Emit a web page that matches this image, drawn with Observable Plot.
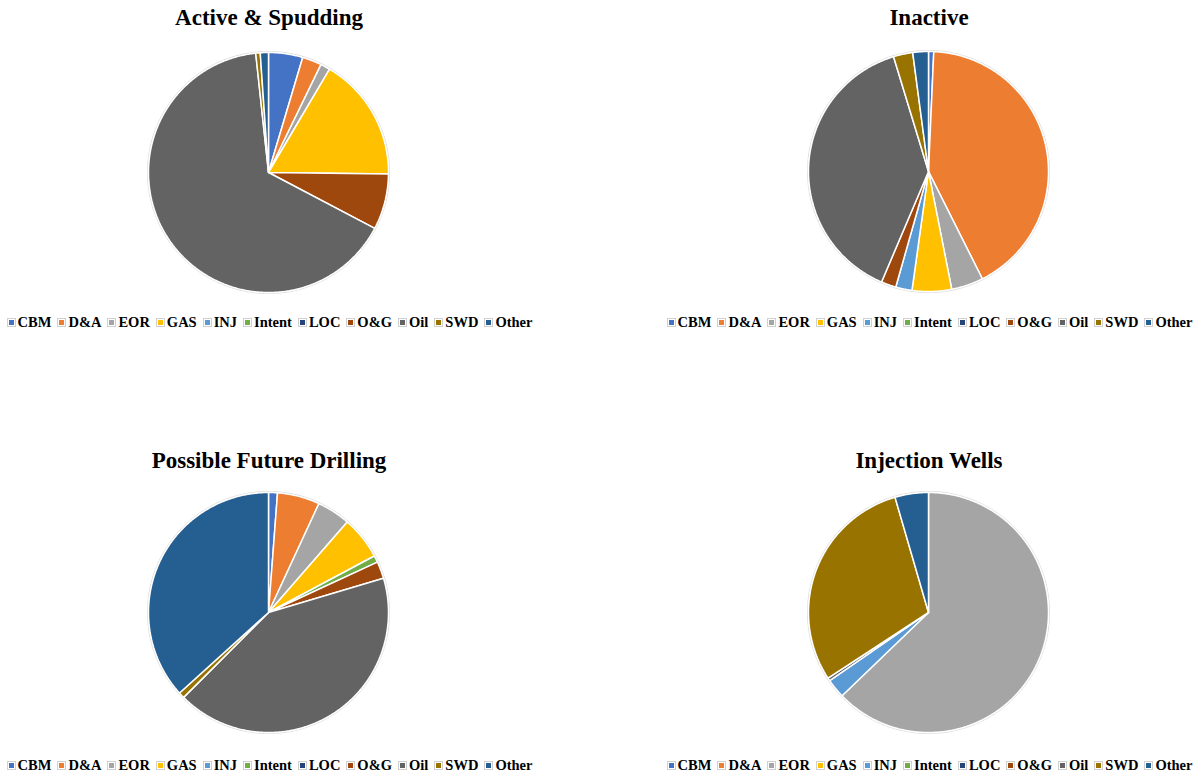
<!DOCTYPE html>
<html>
<head>
<meta charset="utf-8">
<script src="https://cdn.jsdelivr.net/npm/d3@7"></script>
<script src="https://cdn.jsdelivr.net/npm/@observablehq/plot@0.6"></script>
<style>
  html, body { margin: 0; padding: 0; background: #fff; }
  #root { position: relative; width: 1203px; height: 773px; overflow: hidden; font-family: "Liberation Serif", "Times New Roman", serif; }
  .title { position: absolute; width: 500px; text-align: center; font-family: "Liberation Serif", serif; font-weight: bold; font-size: 23px; color: #000; line-height: 1; }
  .legend { position: absolute; width: 600px; display: flex; justify-content: center; gap: 7px; font-family: "Liberation Serif", serif; font-weight: bold; font-size: 14.5px; color: #000; line-height: 1; white-space: nowrap; }
  .item { display: flex; align-items: center; gap: 2px; }
  .sw { width: 5px; height: 5px; border: 1.5px solid #fff; outline: 1px solid #d0d0d0; margin-right: 1px; }
  .pie { position: absolute; }
</style>
</head>
<body>
<div id="root"></div>
<script>
// Categories (legend order) and colours
const categories = ["CBM", "D&A", "EOR", "GAS", "INJ", "Intent", "LOC", "O&G", "Oil", "SWD", "Other"];
const colors = ["#4472C4", "#ED7D31", "#A5A5A5", "#FFC000", "#5B9BD5", "#70AD47", "#264478", "#9E480E", "#636363", "#997300", "#255E91"];

// Chart titles
const titles = ["Active & Spudding", "Inactive", "Possible Future Drilling", "Injection Wells"];

// Shares (%) per category
const activeSpudding = [4.6, 2.6, 1.3, 16.7, 0, 0, 0, 7.5, 65.6, 0.6, 1.1];
const inactive       = [0.7, 41.9, 4.3, 5.3, 2.2, 0, 0, 2.0, 38.9, 2.6, 2.1];
const futureDrilling = [1.2, 5.7, 4.5, 5.8, 0, 0.9, 0, 2.3, 42.1, 0.8, 36.7];
const injectionWells = [0, 0, 62.8, 0, 2.6, 0, 0, 0, 0.4, 29.7, 4.5];

const series = [activeSpudding, inactive, futureDrilling, injectionWells];

// Panel layout (pie centres)
const panels = [
  {cx: 268, cy: 172, titleTop: 6, legendTop: 315},
  {cx: 928, cy: 171, titleTop: 6, legendTop: 315},
  {cx: 268, cy: 612, titleTop: 449, legendTop: 758},
  {cx: 928, cy: 612, titleTop: 449, legendTop: 758}
];

const R = 120;
const M = 6;
const size = 2 * R + 2 * M;
const root = document.getElementById("root");

function slicePolygons(values) {
  const data = categories.map((c, i) => ({cat: c, value: values[i]}));
  const arcs = d3.pie().sort(null).value(d => d.value).startAngle(0).endAngle(2 * Math.PI)(data)
    .filter(a => a.data.value > 0);
  const polys = [];
  const rims = [];
  for (const a of arcs) {
    const n = Math.max(2, Math.ceil((a.endAngle - a.startAngle) / (Math.PI / 360)));
    polys.push({cat: a.data.cat, x: 0, y: 0});
    for (let k = 0; k <= n; k++) {
      const t = a.startAngle + (a.endAngle - a.startAngle) * k / n;
      const p = {cat: a.data.cat, x: Math.sin(t), y: Math.cos(t)};
      polys.push(p);
      rims.push({cat: a.data.cat, x: p.x * 1.008, y: p.y * 1.008});
    }
    polys.push({cat: a.data.cat, x: 0, y: 0});
  }
  return {polys, rims};
}

series.forEach((values, i) => {
  const p = panels[i];
  const {polys, rims} = slicePolygons(values);

  const chart = Plot.plot({
    width: size,
    height: size,
    margin: M,
    x: {domain: [-1, 1], axis: null},
    y: {domain: [-1, 1], axis: null},
    color: {domain: categories, range: colors},
    marks: [
      Plot.line(rims, {x: "x", y: "y", z: "cat", stroke: "#d9d9d9", strokeWidth: 1}),
      Plot.line(polys, {x: "x", y: "y", z: "cat", fill: "cat", stroke: "white", strokeWidth: 1.5, strokeLinejoin: "miter"})
    ]
  });
  chart.classList.add("pie");
  chart.style.left = (p.cx - size / 2) + "px";
  chart.style.top = (p.cy - size / 2) + "px";
  root.appendChild(chart);

  const t = document.createElement("div");
  t.className = "title";
  t.textContent = titles[i];
  t.style.left = (p.cx + 1 - 250) + "px";
  t.style.top = p.titleTop + "px";
  root.appendChild(t);

  const lg = document.createElement("div");
  lg.className = "legend";
  lg.style.left = (p.cx + 2 - 300) + "px";
  lg.style.top = p.legendTop + "px";
  categories.forEach((c, j) => {
    const it = document.createElement("div");
    it.className = "item";
    const sw = document.createElement("span");
    sw.className = "sw";
    sw.style.background = colors[j];
    const lb = document.createElement("span");
    lb.textContent = c;
    it.appendChild(sw);
    it.appendChild(lb);
    lg.appendChild(it);
  });
  root.appendChild(lg);
});
</script>
</body>
</html>
